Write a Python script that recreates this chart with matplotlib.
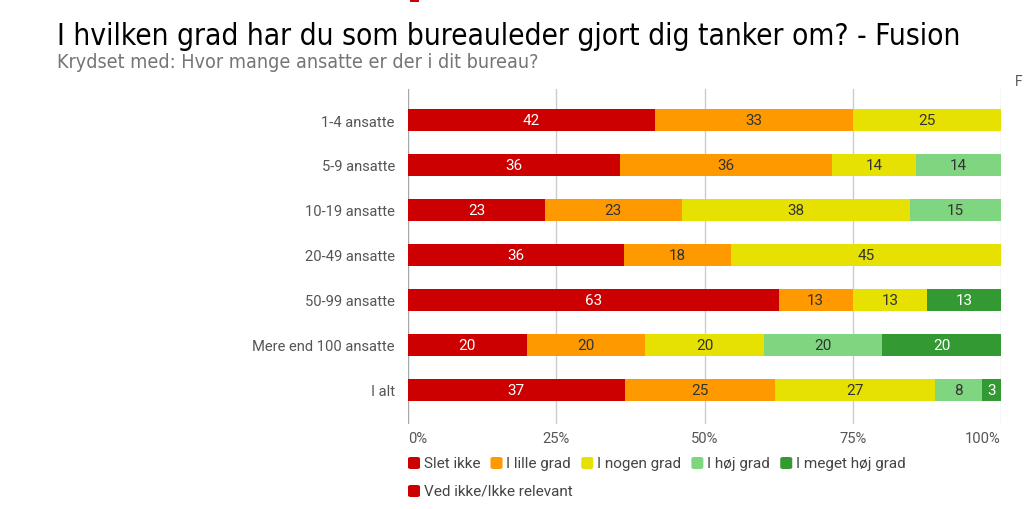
import matplotlib
matplotlib.use("Agg")
import matplotlib.pyplot as plt
from matplotlib.patches import FancyBboxPatch, Rectangle

# ---------------- data ----------------
categories = ["1-4 ansatte", "5-9 ansatte", "10-19 ansatte", "20-49 ansatte",
              "50-99 ansatte", "Mere end 100 ansatte", "I alt"]
series_names = ["Slet ikke", "I lille grad", "I nogen grad", "I høj grad",
                "I meget høj grad", "Ved ikke/Ikke relevant"]
slet_ikke = [41.67, 35.71, 23.08, 36.36, 62.5, 20.0, 36.51]
i_lille_grad = [33.33, 35.71, 23.08, 18.18, 12.5, 20.0, 25.40]
i_nogen_grad = [25.0, 14.29, 38.46, 45.45, 12.5, 20.0, 26.98]
i_hoej_grad = [0.0, 14.29, 15.38, 0.0, 0.0, 20.0, 7.94]
i_meget_hoej_grad = [0.0, 0.0, 0.0, 0.0, 12.5, 20.0, 3.17]
ved_ikke = [0.0, 0.0, 0.0, 0.0, 0.0, 0.0, 0.0]
x_ticks = [0, 25, 50, 75, 100]
x_tick_labels = ["0%", "25%", "50%", "75%", "100%"]

title = "I hvilken grad har du som bureauleder gjort dig tanker om? - Fusion"
subtitle = "Krydset med: Hvor mange ansatte er der i dit bureau?"

colors = ["#cc0000", "#ff9900", "#e6e100", "#80d680", "#339933", "#cc0000"]
text_colors = ["white", "#333333", "#333333", "#333333", "white", "white"]
series = [slet_ikke, i_lille_grad, i_nogen_grad, i_hoej_grad, i_meget_hoej_grad, ved_ikke]

W, H = 1024, 510
fig = plt.figure(figsize=(W / 100, H / 100), dpi=100)
fig.patch.set_facecolor("white")

def fx(px):
    return px / W

def fy(py):
    return 1 - py / H

ax = fig.add_axes([fx(408), fy(425), fx(1001) - fx(408), fy(90) - fy(425)])
ax.set_xlim(0, 100)
ax.set_ylim(6.756, -0.689)
for s in ax.spines.values():
    s.set_visible(False)

for xv in x_ticks:
    ax.axvline(xv, color="#a8a8a8" if xv == 0 else "#cccccc", lw=1.0, zorder=0)

ypos = list(range(len(categories)))
left = [0.0] * len(categories)
for vals, col, tcol in zip(series, colors, text_colors):
    ax.barh(ypos, vals, left=left, height=0.49, color=col, zorder=2, linewidth=0)
    for i, v in enumerate(vals):
        if v > 0:
            ax.text(left[i] + v / 2, ypos[i], str(int(v + 0.5)), ha="center", va="center",
                    color=tcol, fontsize=11, family="Roboto", zorder=3)
    left = [l + v for l, v in zip(left, vals)]

ax.set_yticks(ypos)
ax.set_yticklabels(categories, family="Roboto", fontsize=10.6, color="#555555")
ax.set_xticks(x_ticks)
ax.set_xticklabels(x_tick_labels, family="Roboto", fontsize=10.6, color="#555555")
ax.tick_params(axis="y", length=0, pad=9.5)
ax.tick_params(axis="x", length=0, pad=5)
xtl = ax.get_xticklabels()
xtl[0].set_ha("left")
xtl[0].set_x(-0.5)
xtl[-1].set_ha("right")
xtl[-1].set_x(100.3)

# titles (width fitted to reference)
fig.canvas.draw()
renderer = fig.canvas.get_renderer()

def fit(t, target_px):
    w = t.get_window_extent(renderer).width
    t.set_fontsize(t.get_fontsize() * target_px / w)

t1 = fig.text(fx(57), fy(45), title, fontsize=20, family="DejaVu Sans",
              fontstretch="condensed", color="#000000", va="baseline")
fit(t1, 906)
t2 = fig.text(fx(57), fy(68.5), subtitle, fontsize=12, family="DejaVu Sans",
              fontstretch="condensed", color="#757575", va="baseline")
fit(t2, 480)

# legend (manual rows)
def legend_row(items, x0, ycen):
    x = x0
    for name, col in items:
        sq = FancyBboxPatch((fx(x), fy(ycen + 6)), fx(12), fy(0) - fy(12),
                            boxstyle="round,pad=0,rounding_size=0.003",
                            transform=fig.transFigure, facecolor=col, edgecolor="none")
        fig.patches.append(sq)
        t = fig.text(fx(x + 16), fy(ycen), name, fontsize=11, family="Roboto",
                     color="#444444", va="center", ha="left")
        w = t.get_window_extent(renderer).width
        x = x + 16 + w + 10

legend_row(list(zip(series_names[:5], colors[:5])), 408, 464)
legend_row([(series_names[5], colors[5])], 408, 492)

# cropped remnants at the image edges
fig.patches.append(Rectangle((fx(410), fy(3)), fx(9), fy(0) - fy(3),
                             transform=fig.transFigure, facecolor="#cc0000", edgecolor="none"))
fig.text(fx(1015), fy(82), "F", fontsize=10, family="Roboto", color="#555555", va="center")

fig.savefig("out.png", dpi=100, facecolor="white")
